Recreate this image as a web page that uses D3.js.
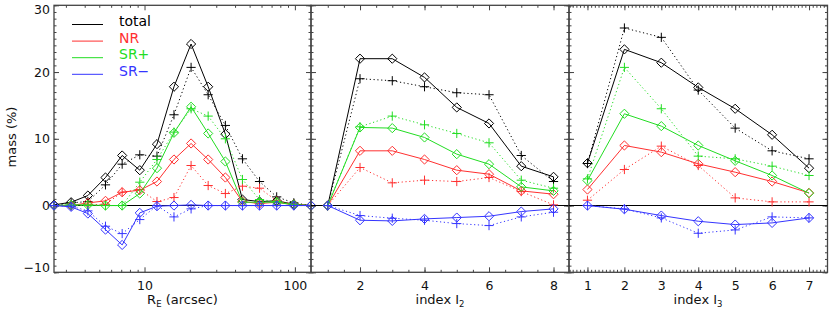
<!DOCTYPE html>
<html>
<head>
<meta charset="utf-8">
<script src="https://cdn.jsdelivr.net/npm/d3@7"></script>
<style>
  body { margin: 0; background: #fff; }
  svg { display: block; font-family: "DejaVu Sans", sans-serif; }
</style>
</head>
<body>
<svg id="chart" width="830" height="312"></svg>
<script>
// ---- data ----
// D = solid line with diamonds, P = dotted line with plus signs
var rE = [2.5, 3.25, 4.2, 5.5, 7.1, 9.3, 12.1, 15.7, 20.4, 26.5, 34.5, 44.8, 58.2, 75.7, 98.4, 128];
var reTotalD = [0.1, 0.5, 1.5, 4.2, 7.5, 5.3, 9.2, 17.8, 24.2, 17.8, 10.7, 0.9, 0.6, 0.7, 0.2, 0];
var reTotalP = [0, 0.4, 0.6, 3.1, 6.2, 7.6, 7.4, 13.6, 20.7, 16.6, 12.0, 7.0, 3.6, 1.3, 0.4, 0];
var reNRD    = [0, 0, 0.4, 0.7, 2.0, 2.3, 3.6, 6.9, 9.3, 6.9, 4.2, 0.6, 0.3, 0.5, 0.1, 0];
var reNRP    = [0, 0, 0.1, 0.2, 2.0, 2.4, 0.6, 1.2, 6.0, 3.0, 1.8, 2.9, 2.6, 0.7, 0.2, 0];
var reSRpD   = [0, 0.1, 0.1, 0, 0, 1.8, 5.6, 10.9, 14.8, 10.8, 6.6, 0.5, 0.5, 0.5, 0.1, 0];
var reSRpP   = [0, 0, 0, 0, 0, 3.5, 6.9, 11.0, 14.5, 13.4, 10.0, 3.9, 0.9, 0.6, 0.2, 0];
var reSRmD   = [0, -0.2, -1.2, -3.6, -5.9, -1.1, -0.1, 0, 0.1, 0, 0, 0, 0, 0, 0, 0];
var reSRmP   = [0, -0.1, -0.8, -3.1, -4.2, -2.1, 0, -1.7, -0.5, 0, 0, 0, 0, 0, 0, 0];

var i2 = [1, 2, 3, 4, 5, 6, 7, 8];
var i2TotalD = [0, 22.0, 22.0, 19.2, 14.7, 12.3, 5.9, 4.3];
var i2TotalP = [0, 19.0, 18.7, 17.8, 16.9, 16.6, 7.5, 3.6];
var i2NRD    = [0, 8.2, 8.2, 6.9, 5.3, 4.7, 2.2, 1.7];
var i2NRP    = [0, 5.7, 3.4, 3.8, 3.6, 4.2, 2.1, 0.1];
var i2SRpD   = [0, 11.7, 11.6, 10.2, 7.7, 6.2, 2.8, 2.2];
var i2SRpP   = [0, 11.8, 13.4, 12.1, 10.8, 9.4, 3.8, 2.6];
var i2SRmD   = [0, -2.2, -2.3, -2.0, -1.8, -1.6, -0.9, -0.5];
var i2SRmP   = [0, -1.5, -1.9, -2.2, -2.7, -3.0, -1.7, -1.0];

var i3 = [1, 2, 3, 4, 5, 6, 7];
var i3TotalD = [6.35, 23.4, 21.4, 17.7, 14.5, 10.6, 5.6];
var i3TotalP = [6.3, 26.6, 25.2, 17.3, 11.6, 8.2, 7.0];
var i3NRD    = [2.4, 9.0, 8.0, 6.25, 5.0, 3.6, 1.9];
var i3NRP    = [0.8, 5.4, 8.9, 6.0, 1.15, 0.55, 0.55];
var i3SRpD   = [3.75, 13.75, 11.9, 9.0, 6.7, 4.5, 1.85];
var i3SRpP   = [4.0, 20.7, 14.5, 7.4, 7.0, 5.9, 4.5];
var i3SRmD   = [0, -0.55, -1.5, -2.35, -2.85, -2.6, -1.85];
var i3SRmP   = [0, -0.5, -1.85, -4.15, -3.65, -1.7, -1.85];

var legendNames = ["total", "NR", "SR+", "SR\u2212"];
var yTicks = [-10, 0, 10, 20, 30];
var reTicks = [10, 100];
var i2Ticks = [2, 4, 6, 8];
var i3Ticks = [1, 2, 3, 4, 5, 6, 7];

// ---- styles ----
var colors = ["#000000", "#ff3030", "#22dd22", "#3535ff"];
var axisColor = "#444";
var plotTop = 5.3, plotBottom = 272.3;

var svg = d3.select("#chart");

var y = d3.scaleLinear().domain([-10, 30]).range([plotBottom, plotTop]);

var xRE = d3.scaleLog().domain([rE[0], rE[rE.length - 1]]).range([54, 311]);
var xI2 = d3.scaleLinear().domain([0.48, 8.48]).range([311, 569]);
var xI3 = d3.scaleLinear().domain([0.5, 7.5]).range([569, 827.5]);

// minor ticks
var reMinor = [3, 4, 5, 6, 7, 8, 9, 20, 30, 40, 50, 60, 70, 80, 90];
var i2Minor = d3.range(1, 8.6, 0.5);
var i3Minor = d3.range(0.6, 7.45, 0.1);
var yMinor = d3.range(-10, 30.5, 1);

var diamond = "M0,-4.6L4.6,0L0,4.6L-4.6,0Z";
var plus = "M-4.6,0H4.6M0,-4.6V4.6";

function styleAxis(g) {
  g.select(".domain").remove();
  g.selectAll("line").attr("stroke", axisColor);
  g.attr("font-family", "DejaVu Sans").attr("font-size", 12.5);
  g.selectAll("text").attr("fill", "#111");
}

function drawPanel(x, xs, sets, major, minor, fmt) {
  var x0 = x.range()[0], x1 = x.range()[1];
  var g = svg.append("g");

  // ticks, pointing inward on all four sides
  g.append("g").attr("transform", "translate(0," + plotBottom + ")")
    .call(d3.axisBottom(x).tickValues(minor).tickSize(-2.5).tickFormat(""))
    .call(styleAxis);
  g.append("g").attr("transform", "translate(0," + plotBottom + ")")
    .call(d3.axisBottom(x).tickValues(major).tickSize(-5).tickPadding(9).tickFormat(fmt))
    .call(styleAxis);
  g.append("g").attr("transform", "translate(0," + plotTop + ")")
    .call(d3.axisTop(x).tickValues(minor).tickSize(-2.5).tickFormat(""))
    .call(styleAxis);
  g.append("g").attr("transform", "translate(0," + plotTop + ")")
    .call(d3.axisTop(x).tickValues(major).tickSize(-5).tickFormat(""))
    .call(styleAxis);
  [[x0, d3.axisLeft], [x1, d3.axisRight]].forEach(function(s) {
    g.append("g").attr("transform", "translate(" + s[0] + ",0)")
      .call(s[1](y).tickValues(yMinor).tickSize(-2.5).tickFormat(""))
      .call(styleAxis);
    g.append("g").attr("transform", "translate(" + s[0] + ",0)")
      .call(s[1](y).tickValues(yTicks).tickSize(-5).tickFormat(""))
      .call(styleAxis);
  });

  // frame
  g.append("rect")
    .attr("x", x0).attr("y", plotTop)
    .attr("width", x1 - x0).attr("height", plotBottom - plotTop)
    .attr("fill", "none").attr("stroke", axisColor).attr("stroke-width", 1.3);

  // zero line
  g.append("line")
    .attr("x1", x0).attr("x2", x1)
    .attr("y1", y(0)).attr("y2", y(0))
    .attr("stroke", "#000").attr("stroke-width", 1.1);

  var line = d3.line()
    .x(function(d) { return x(d[0]); })
    .y(function(d) { return y(d[1]); });

  sets.forEach(function(s, k) {
    var dots = xs.map(function(v, i) { return [v, s[1][i]]; });
    var solid = xs.map(function(v, i) { return [v, s[0][i]]; });

    g.append("path").datum(dots)
      .attr("d", line).attr("fill", "none")
      .attr("stroke", colors[k]).attr("stroke-width", 1)
      .attr("stroke-dasharray", "1.2,2.6");
    g.selectAll(null).data(dots).enter().append("path")
      .attr("d", plus)
      .attr("transform", function(d) { return "translate(" + x(d[0]) + "," + y(d[1]) + ")"; })
      .attr("stroke", colors[k]).attr("stroke-width", 1).attr("fill", "none");

    g.append("path").datum(solid)
      .attr("d", line).attr("fill", "none")
      .attr("stroke", colors[k]).attr("stroke-width", 1);
    g.selectAll(null).data(solid).enter().append("path")
      .attr("d", diamond)
      .attr("transform", function(d) { return "translate(" + x(d[0]) + "," + y(d[1]) + ")"; })
      .attr("stroke", colors[k]).attr("stroke-width", 1).attr("fill", "none");
  });
  return g;
}

drawPanel(xRE, rE,
  [[reTotalD, reTotalP], [reNRD, reNRP], [reSRpD, reSRpP], [reSRmD, reSRmP]],
  reTicks, reMinor, d3.format("d"));
drawPanel(xI2, i2,
  [[i2TotalD, i2TotalP], [i2NRD, i2NRP], [i2SRpD, i2SRpP], [i2SRmD, i2SRmP]],
  i2Ticks, i2Minor, d3.format("d"));
drawPanel(xI3, i3,
  [[i3TotalD, i3TotalP], [i3NRD, i3NRP], [i3SRpD, i3SRpP], [i3SRmD, i3SRmP]],
  i3Ticks, i3Minor, d3.format("d"));

// y tick labels, first panel only (end labels nudged inside like IDL)
svg.append("g").selectAll("text").data(yTicks).enter().append("text")
  .attr("x", 50)
  .attr("y", function(d) { return Math.min(Math.max(y(d), plotTop + 4.5), plotBottom - 4.5); })
  .attr("dy", "0.36em")
  .attr("text-anchor", "end")
  .attr("font-size", 12.5)
  .attr("fill", "#111")
  .text(function(d) { return d < 0 ? "\u2212" + Math.abs(d) : d; });

// axis titles
var t1 = svg.append("text").attr("x", 182.5).attr("y", 304)
  .attr("text-anchor", "middle").attr("font-size", 13).attr("fill", "#111");
t1.append("tspan").text("R");
t1.append("tspan").attr("font-size", 8.5).attr("dy", 3).text("E");
t1.append("tspan").attr("dy", -3).text(" (arcsec)");

[[440, "2"], [698, "3"]].forEach(function(a) {
  var t = svg.append("text").attr("x", a[0]).attr("y", 304)
    .attr("text-anchor", "middle").attr("font-size", 13).attr("fill", "#111");
  t.append("tspan").text("index I");
  t.append("tspan").attr("font-size", 8.5).attr("dy", 3).text(a[1]);
});

svg.append("text")
  .attr("transform", "translate(16,137) rotate(-90)")
  .attr("text-anchor", "middle").attr("font-size", 13).attr("fill", "#111")
  .text("mass (%)");

// legend
var leg = svg.append("g");
legendNames.forEach(function(name, k) {
  var by = 26 + k * 16.6;
  leg.append("line")
    .attr("x1", 72).attr("x2", 103)
    .attr("y1", by - 1.5).attr("y2", by - 1.5)
    .attr("stroke", colors[k]).attr("stroke-width", 1);
  leg.append("text")
    .attr("x", 119).attr("y", by)
    .attr("font-size", 14)
    .attr("fill", colors[k])
    .text(name);
});
</script>
</body>
</html>
